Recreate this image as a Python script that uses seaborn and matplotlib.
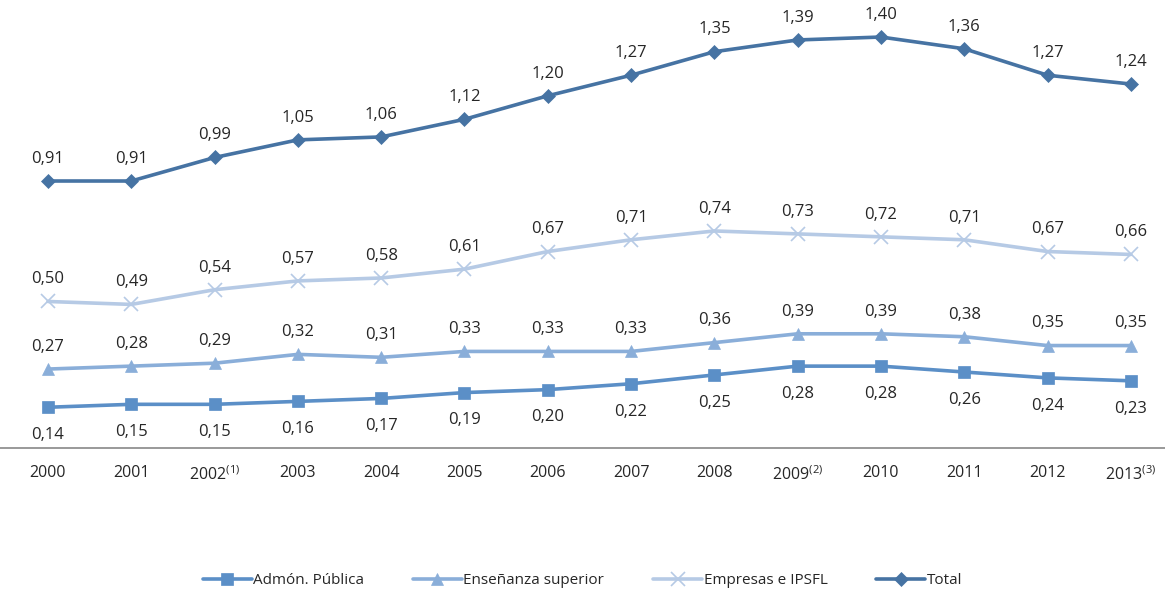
import matplotlib
matplotlib.use('Agg')
import matplotlib.pyplot as plt
import seaborn as sns
import pandas as pd

# Data.
years = ['2000', '2001', '2002$^{\\mathregular{(1)}}$', '2003', '2004', '2005',
         '2006', '2007', '2008', '2009$^{\\mathregular{(2)}}$', '2010', '2011',
         '2012', '2013$^{\\mathregular{(3)}}$']
admon = [0.14, 0.15, 0.15, 0.16, 0.17, 0.19, 0.20, 0.22, 0.25, 0.28, 0.28, 0.26, 0.24, 0.23]
ensenanza = [0.27, 0.28, 0.29, 0.32, 0.31, 0.33, 0.33, 0.33, 0.36, 0.39, 0.39, 0.38, 0.35, 0.35]
empresas = [0.50, 0.49, 0.54, 0.57, 0.58, 0.61, 0.67, 0.71, 0.74, 0.73, 0.72, 0.71, 0.67, 0.66]
total = [0.91, 0.91, 0.99, 1.05, 1.06, 1.12, 1.20, 1.27, 1.35, 1.39, 1.40, 1.36, 1.27, 1.24]

series_names = ['Admón. Pública', 'Enseñanza superior', 'Empresas e IPSFL', 'Total']
series_values = [admon, ensenanza, empresas, total]

# Styles for each series.
colors = ['#5B8FC7', '#8AAED9', '#B6CAE5', '#4673A3']
markers = ['s', '^', 'x', 'D']
msizes = [9, 9, 10, 7]
offsets = [-20, 16, 16, 16]

sns.set_style('white')
plt.rcParams['font.family'] = ['Open Sans', 'DejaVu Sans']

fig = plt.figure(figsize=(11.65, 5.90), dpi=100)
ax = fig.add_axes([0, 0.24, 1, 0.76])

for name, values, color, marker, ms, off in zip(series_names, series_values,
                                               colors, markers, msizes, offsets):
    df = pd.DataFrame({'x': range(len(years)), 'y': values})
    sns.lineplot(data=df, x='x', y='y', ax=ax, color=color, linewidth=2.6,
                 marker=marker, markersize=ms, markeredgecolor=color,
                 markeredgewidth=1.2 if marker == 'x' else 0.5, label=name)
    for i, v in enumerate(values):
        ax.annotate(f'{v:.2f}'.replace('.', ','), (i, v), xytext=(0, off),
                    textcoords='offset points', ha='center', va='center',
                    fontsize=12)

ax.set_xlim(-0.576, 13.41)
ax.set_ylim(0, 1.526)
ax.set_xticks(range(len(years)))
ax.set_xticklabels(years, fontsize=11.5)
ax.set_yticks([])
ax.set_xlabel('')
ax.set_ylabel('')
ax.tick_params(axis='x', length=0, pad=12)
for side in ['top', 'right', 'left']:
    ax.spines[side].set_visible(False)
ax.spines['bottom'].set_color('#888888')
ax.spines['bottom'].set_linewidth(1.2)

ax.legend(loc='center', bbox_to_anchor=(0.5, -0.295), ncol=4, frameon=False,
          fontsize=11, handlelength=3.2, columnspacing=3.2, handletextpad=0.1)

fig.savefig('out.png', dpi=100)
